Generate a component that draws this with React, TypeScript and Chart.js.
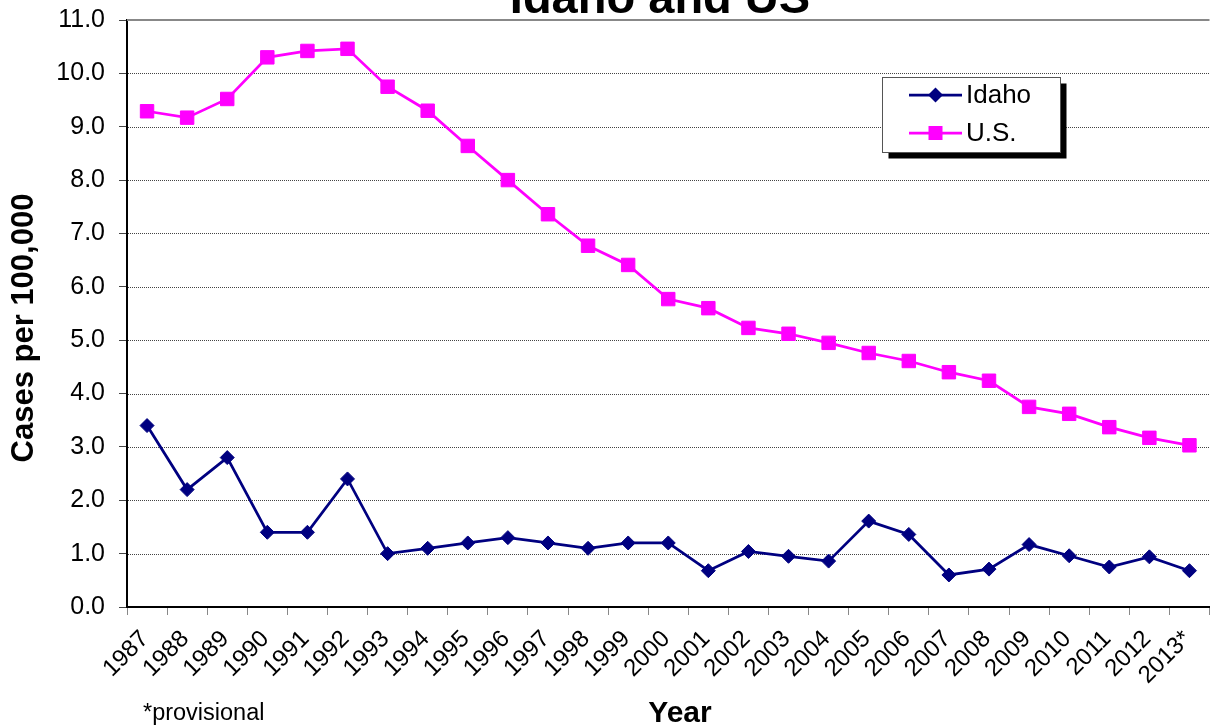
import React, { useEffect, useRef } from 'react';
import { Chart, registerables } from 'chart.js';

Chart.register(...registerables);

const FONT = '"Liberation Sans", Arial, Helvetica, sans-serif';

const years = [
  '1987', '1988', '1989', '1990', '1991', '1992', '1993', '1994', '1995',
  '1996', '1997', '1998', '1999', '2000', '2001', '2002', '2003', '2004',
  '2005', '2006', '2007', '2008', '2009', '2010', '2011', '2012', '2013*',
];

const idahoRates = [
  3.4, 2.2, 2.8, 1.4, 1.4, 2.4, 1.0, 1.1, 1.2,
  1.3, 1.2, 1.1, 1.2, 1.2, 0.68, 1.04, 0.95, 0.86,
  1.61, 1.36, 0.6, 0.71, 1.17, 0.96, 0.75, 0.94, 0.68,
];

const usRates = [
  9.29, 9.17, 9.52, 10.3, 10.42, 10.46, 9.75, 9.3, 8.64,
  8.0, 7.36, 6.77, 6.41, 5.77, 5.6, 5.23, 5.12, 4.95,
  4.76, 4.61, 4.4, 4.24, 3.75, 3.62, 3.37, 3.17, 3.03,
];

const yTicks = [0, 1, 2, 3, 4, 5, 6, 7, 8, 9, 10, 11];
const seriesLabels = ['Idaho', 'U.S.'];
const chartTitle = 'Idaho and US';
const yAxisTitle = 'Cases per 100,000';
const xAxisTitle = 'Year';
const footnote = '*provisional';

const IDAHO_COLOR = '#000080';
const US_COLOR = '#FF00FF';

function drawMarker(ctx: CanvasRenderingContext2D, style: string, x: number, y: number, color: string) {
  ctx.save();
  ctx.fillStyle = color;
  ctx.beginPath();
  if (style === 'rectRot') {
    const r = 7.5;
    ctx.moveTo(x - r, y);
    ctx.lineTo(x, y - r);
    ctx.lineTo(x + r, y);
    ctx.lineTo(x, y + r);
    ctx.closePath();
  } else {
    const s = 7;
    ctx.rect(x - s, y - s, 2 * s, 2 * s);
  }
  ctx.fill();
  ctx.restore();
}

export default function App() {
  const ref = useRef<HTMLCanvasElement>(null);

  useEffect(() => {
    const canvas = ref.current!;
    const decor = {
      id: 'decor',
      beforeDatasetsDraw(chart: any) {
        const { ctx, chartArea: a, scales } = chart;
        const y = scales.y;
        ctx.save();
        ctx.lineWidth = 1;
        ctx.strokeStyle = '#444';
        ctx.setLineDash([1, 1]);
        for (const v of yTicks) {
          if (v === 0 || v === 11) continue;
          const py = Math.round(y.getPixelForValue(v)) + 0.5;
          ctx.beginPath();
          ctx.moveTo(a.left + 1, py);
          ctx.lineTo(a.right, py);
          ctx.stroke();
        }
        ctx.setLineDash([]);
        ctx.strokeStyle = '#888';
        ctx.lineWidth = 2;
        const top = y.getPixelForValue(11);
        ctx.beginPath();
        ctx.moveTo(a.left, top);
        ctx.lineTo(a.right, top);
        ctx.stroke();
        ctx.restore();
      },
      afterDraw(chart: any) {
        const { ctx } = chart;
        ctx.save();
        ctx.fillStyle = '#000';
        // Title (partly cut off at top)
        ctx.font = `bold 47px ${FONT}`;
        ctx.textAlign = 'center';
        ctx.textBaseline = 'alphabetic';
        ctx.fillText(chartTitle, 660, 13);

        // Y axis title
        ctx.save();
        ctx.translate(24, 328);
        ctx.rotate(-Math.PI / 2);
        ctx.font = `bold 31px ${FONT}`;
        ctx.textAlign = 'center';
        ctx.textBaseline = 'middle';
        ctx.fillText(yAxisTitle, 0, 0);
        ctx.restore();

        // X axis title
        ctx.font = `bold 30px ${FONT}`;
        ctx.textAlign = 'center';
        ctx.textBaseline = 'alphabetic';
        ctx.fillText(xAxisTitle, 680, 722);

        // Footnote
        ctx.font = `23.5px ${FONT}`;
        ctx.textAlign = 'left';
        ctx.fillText(footnote, 143, 720);

        // Legend
        const lx = 882.5, ly = 77.5, lw = 178, lh = 75;
        ctx.fillStyle = '#000';
        ctx.fillRect(lx + 6, ly + 6, lw, lh);
        ctx.fillStyle = '#fff';
        ctx.fillRect(lx, ly, lw, lh);
        ctx.strokeStyle = '#555';
        ctx.lineWidth = 1;
        ctx.strokeRect(lx, ly, lw, lh);
        chart.data.datasets.forEach((ds: any, i: number) => {
          const ry = 95 + i * 38;
          ctx.strokeStyle = ds.borderColor;
          ctx.lineWidth = 2.75;
          ctx.beginPath();
          ctx.moveTo(909, ry);
          ctx.lineTo(962, ry);
          ctx.stroke();
          drawMarker(ctx, ds.pointStyle, 935.5, ry, ds.borderColor);
          ctx.fillStyle = '#000';
          ctx.font = `26px ${FONT}`;
          ctx.textAlign = 'left';
          ctx.textBaseline = 'middle';
          ctx.fillText(ds.label, 966, ry + 1);
        });
        ctx.restore();
      },
    };

    const chart = new Chart(canvas, {
      type: 'line',
      data: {
        labels: years,
        datasets: [
          {
            label: seriesLabels[0],
            data: idahoRates,
            borderColor: IDAHO_COLOR,
            backgroundColor: IDAHO_COLOR,
            borderWidth: 2.75,
            pointStyle: 'rectRot',
            pointRadius: 7,
            pointBorderWidth: 1,
            pointBackgroundColor: IDAHO_COLOR,
            pointBorderColor: IDAHO_COLOR,
            tension: 0,
            fill: false,
          },
          {
            label: seriesLabels[1],
            data: usRates,
            borderColor: US_COLOR,
            backgroundColor: US_COLOR,
            borderWidth: 2.75,
            pointStyle: 'rect',
            pointRadius: 9.5,
            pointBorderWidth: 1,
            pointBackgroundColor: US_COLOR,
            pointBorderColor: US_COLOR,
            tension: 0,
            fill: false,
          },
        ],
      },
      options: {
        responsive: false,
        animation: false,
        devicePixelRatio: 1,
        layout: { padding: { top: 20, right: 3, bottom: 0, left: 0 } },
        plugins: {
          legend: { display: false },
          title: { display: false },
          tooltip: { enabled: false },
        },
        scales: {
          x: {
            type: 'category',
            offset: true,
            grid: {
              display: true,
              offset: true,
              drawOnChartArea: false,
              drawTicks: true,
              tickLength: 8,
              tickColor: '#888',
              tickWidth: 1,
            },
            border: { display: true, color: '#000', width: 2 },
            ticks: {
              color: '#000',
              font: { family: FONT, size: 24 },
              minRotation: 45,
              maxRotation: 45,
              autoSkip: false,
              padding: 10,
              labelOffset: -2,
            },
            afterFit: (s: any) => {
              s.height = 121;
              s.paddingLeft = 0;
              s.paddingRight = 0;
            },
          },
          y: {
            min: 0,
            max: 11,
            ticks: {
              stepSize: 1,
              color: '#000',
              font: { family: FONT, size: 25 },
              padding: 14,
              callback: (v: any) => Number(v).toFixed(1),
            },
            grid: {
              display: true,
              drawOnChartArea: false,
              drawTicks: true,
              tickLength: 8,
              tickColor: '#444',
              tickWidth: 1,
            },
            border: { display: true, color: '#000', width: 2 },
            afterFit: (s: any) => {
              s.width = 127;
              s.paddingTop = 0;
              s.paddingBottom = 0;
            },
          },
        },
      },
      plugins: [decor],
    });
    return () => chart.destroy();
  }, []);

  return (
    <div style={{ position: 'fixed', left: 0, top: 0, width: 1212, height: 728, overflow: 'hidden', background: '#fff' }}>
      <canvas ref={ref} width={1220} height={728} style={{ display: 'block', width: 1220, height: 728 }} />
    </div>
  );
}
